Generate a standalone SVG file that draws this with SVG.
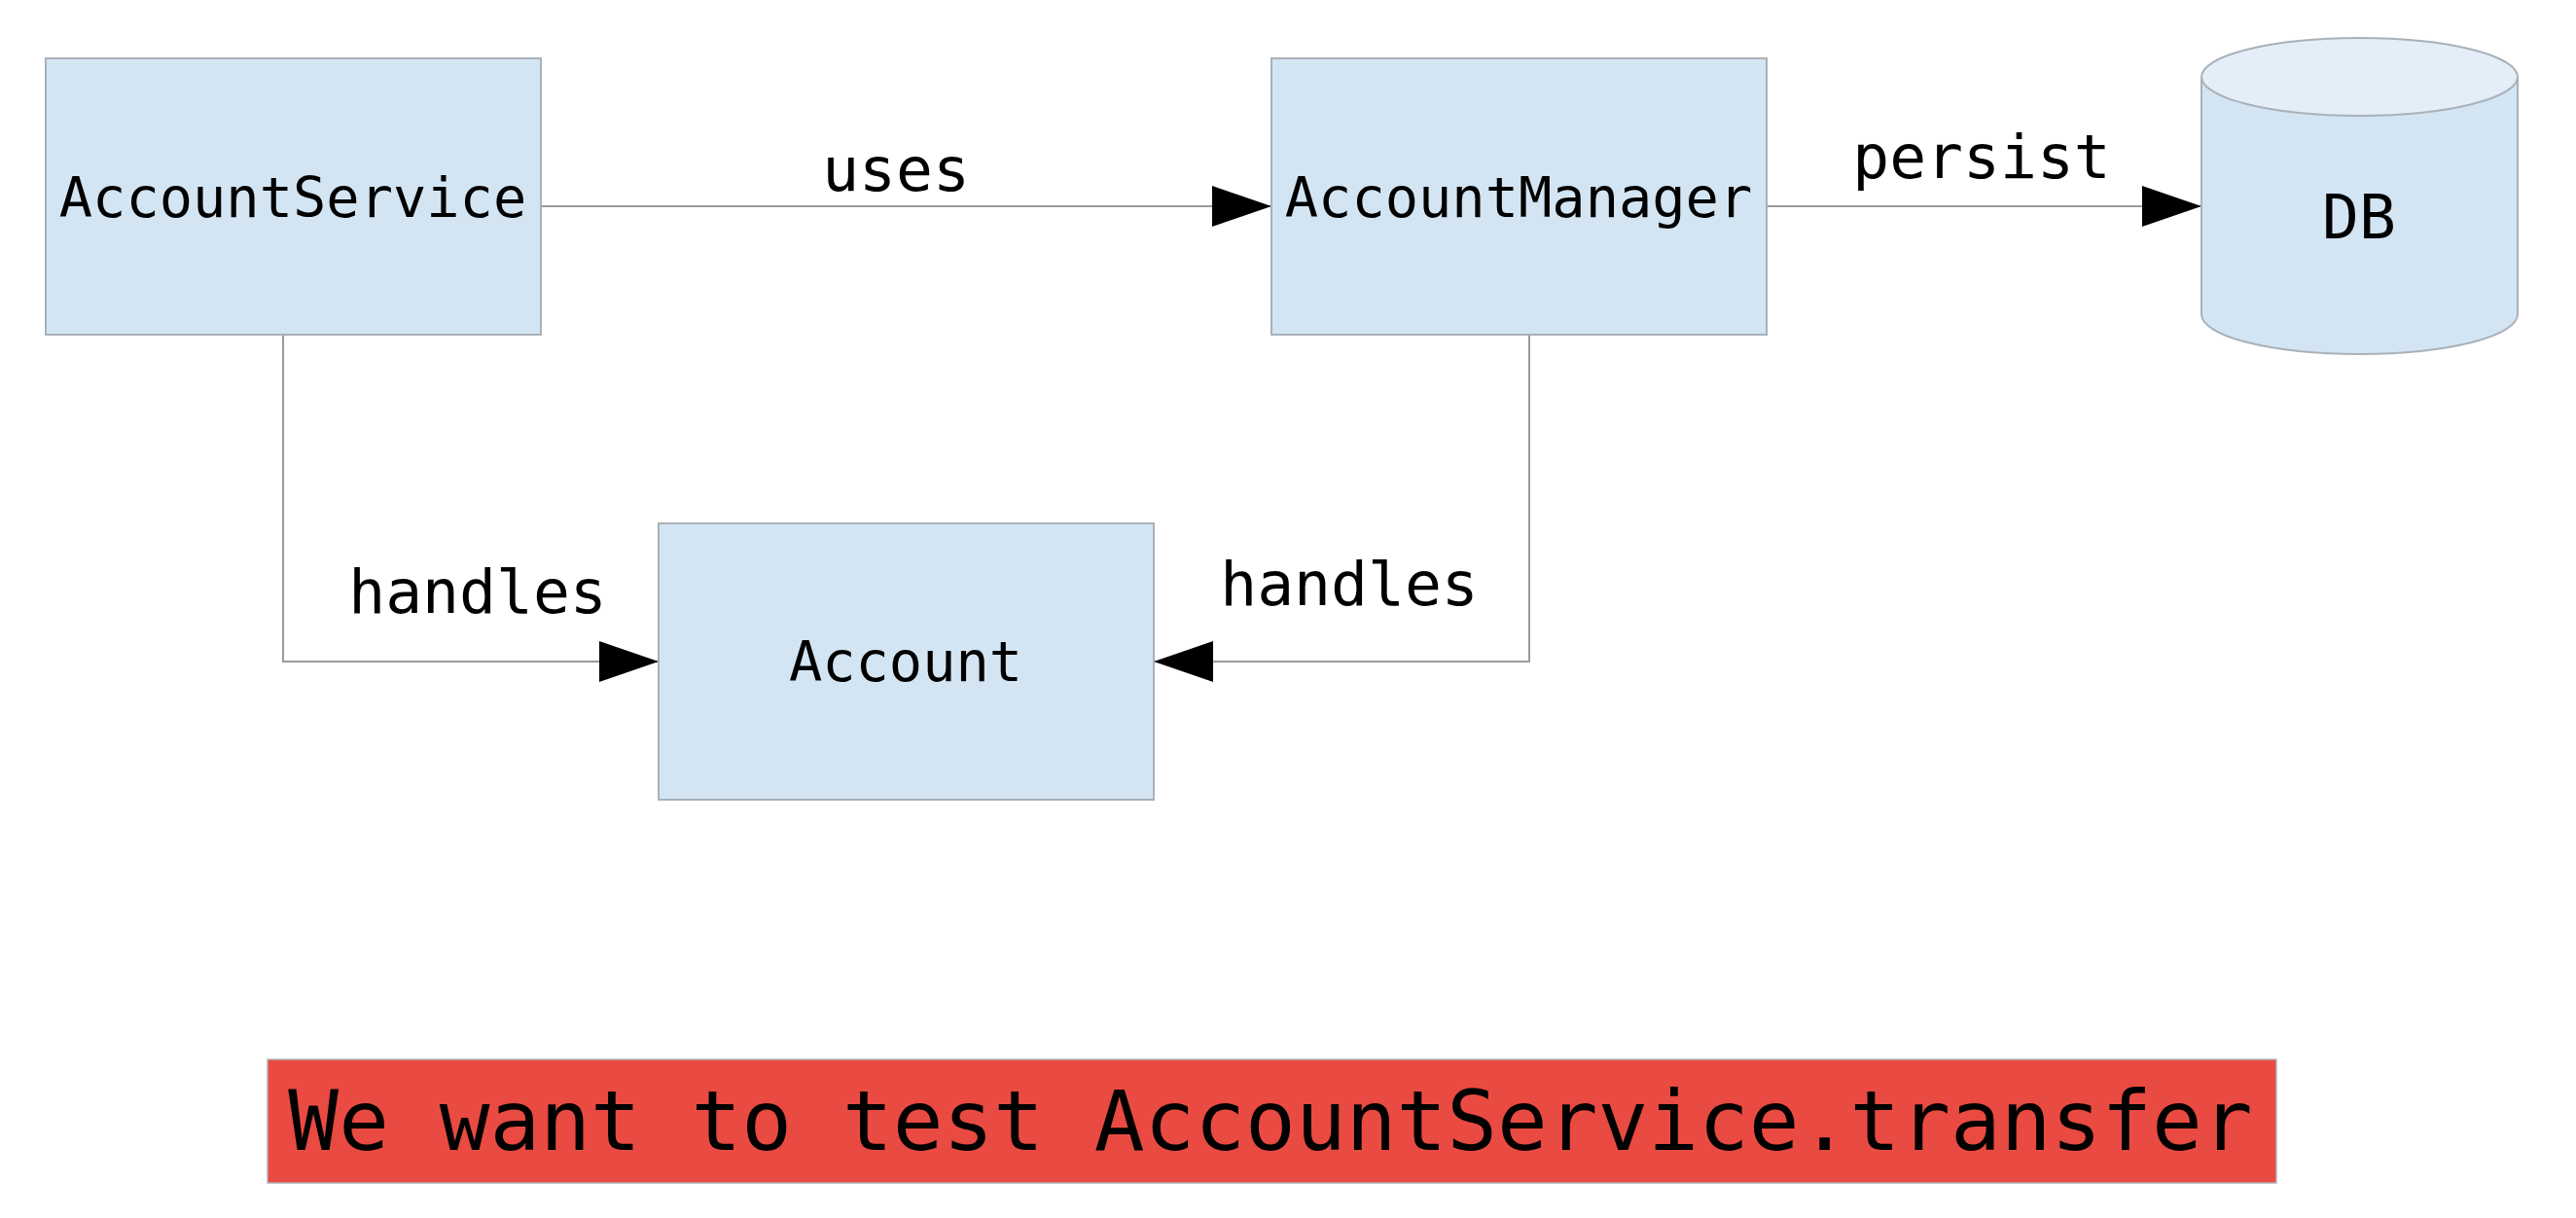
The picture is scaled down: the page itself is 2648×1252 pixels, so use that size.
<svg xmlns="http://www.w3.org/2000/svg" width="2648" height="1252" viewBox="0 0 2648 1252">
<style>
.box{fill:#d3e5f3;stroke:#a9b1b8;stroke-width:2}
.lbl{font-family:"DejaVu Sans Mono","Liberation Mono",monospace;fill:#000;text-anchor:middle}
.node{font-size:57px}
.edge{font-size:63px}
.conn{fill:none;stroke:#9a9a9a;stroke-width:2}
</style>
<defs>
<marker id="arr" markerUnits="userSpaceOnUse" markerWidth="62" markerHeight="42" refX="61" refY="21" orient="auto">
<path d="M0,0 L61,21 L0,42 Z" fill="#000"/>
</marker>
</defs>
<rect width="2648" height="1252" fill="#fff"/>
<g id="connectors">
<path class="conn" d="M556,212 H1307" marker-end="url(#arr)"/>
<path class="conn" d="M1816,212 H2263" marker-end="url(#arr)"/>
<path class="conn" d="M291,344 V680 H677" marker-end="url(#arr)"/>
<path class="conn" d="M1572,344 V680 H1186" marker-end="url(#arr)"/>
<text class="lbl edge" x="921" y="196">uses</text>
<text class="lbl edge" x="2037" y="183">persist</text>
<text class="lbl edge" x="491" y="630">handles</text>
<text class="lbl edge" x="1387" y="622">handles</text>
</g>
<g id="AccountService">
<rect class="box" x="47" y="60" width="509" height="284"/>
<text class="lbl node" x="301" y="223">AccountService</text>
</g>
<g id="AccountManager">
<rect class="box" x="1307" y="60" width="509" height="284"/>
<text class="lbl node" x="1561" y="223">AccountManager</text>
</g>
<g id="Account">
<rect class="box" x="677" y="538" width="509" height="284"/>
<text class="lbl node" x="931" y="700">Account</text>
</g>
<g id="DB">
<path d="M2263,79 V323 A162.5,41 0 0 0 2588,323 V79" fill="#d3e5f3" stroke="#a9b1b8" stroke-width="2"/>
<ellipse cx="2425.5" cy="79" rx="162.5" ry="40" fill="#e3eef8" stroke="#a9b1b8" stroke-width="2"/>
<text class="lbl" x="2425" y="245" font-size="63">DB</text>
</g>
<g id="banner">
<rect x="275" y="1089" width="2065" height="127" fill="#e94a42" stroke="#b0b4b8" stroke-width="1.5"/>
<text class="lbl" x="1306" y="1182" font-size="86">We want to test AccountService.transfer</text>
</g>
</svg>
